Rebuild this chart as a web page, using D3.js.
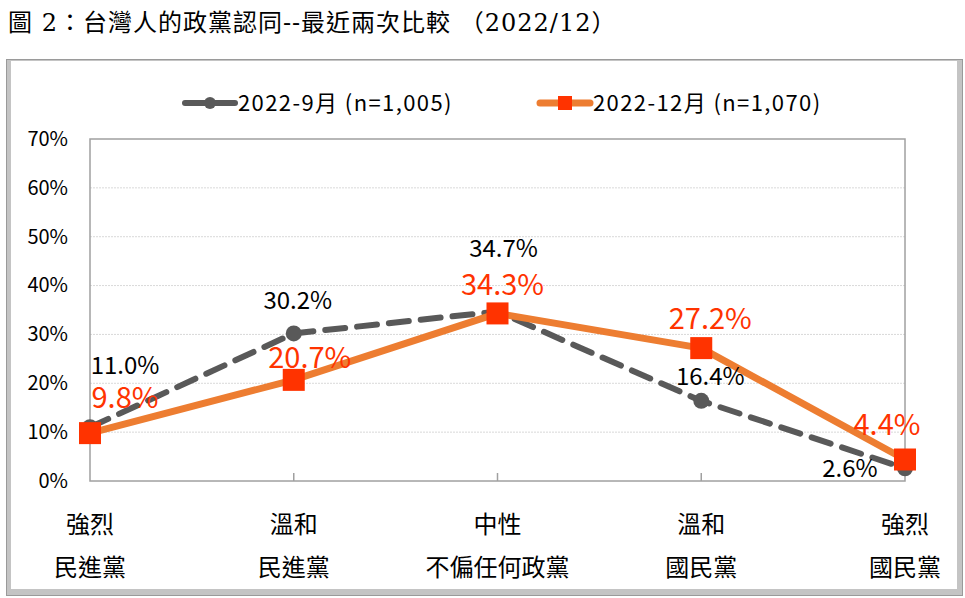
<!DOCTYPE html>
<html>
<head>
<meta charset="utf-8">
<script src="https://cdn.jsdelivr.net/npm/d3@7"></script>
<style>
  body { margin: 0; background: #fff; }
  svg { display: block; }
</style>
</head>
<body>
<script>
// chart data
let categories = [['強烈', '民進黨'], ['溫和', '民進黨'], ['中性', '不偏任何政黨'], ['溫和', '國民黨'], ['強烈', '國民黨']];
let sep = [11.0, 30.2, 34.7, 16.4, 2.6];
let dec = [9.8, 20.7, 34.3, 27.2, 4.4];
let yTicks = [0, 10, 20, 30, 40, 50, 60, 70];
let seriesNames = ['2022-9月 (n=1,005)', '2022-12月 (n=1,070)'];
let title = '圖 2：台灣人的政黨認同--最近兩次比較 （2022/12）';

let width = 965,
    height = 598;

let margin = { top: 139, bottom: 117, left: 90, right: 60 };

let font = '"Noto Sans CJK TC", "Noto Sans", sans-serif';

let svg = d3.select('body')
  .append('svg')
    .attr('width', width)
    .attr('height', height)
    .style('background', '#fff');

// title
svg.append('text')
  .attr('x', 8)
  .attr('y', 31)
  .style('font-family', '"DejaVu Serif", "Noto Sans CJK TC", serif')
  .style('font-size', '24px')
  .style('letter-spacing', '1px')
  .attr('fill', '#000')
  .text(title);

// outer frame with shadow edges
svg.append('rect')
  .attr('x', 6).attr('y', 59)
  .attr('width', 957).attr('height', 537)
  .attr('fill', '#c4c4c4');
svg.append('rect')
  .attr('x', 11).attr('y', 61)
  .attr('width', 946).attr('height', 528)
  .attr('fill', '#fff');
svg.append('rect')
  .attr('x', 6.5).attr('y', 59.5)
  .attr('width', 956).attr('height', 536)
  .attr('fill', 'none')
  .attr('stroke', '#9a9a9a');

let xScale = d3.scalePoint()
  .domain(d3.range(categories.length))
  .range([margin.left, width - margin.right]);

let yScale = d3.scaleLinear()
  .domain([0, 70])
  .range([height - margin.bottom, margin.top]);

let x0 = margin.left, x1 = width - margin.right;
let y0 = yScale(0), y1 = yScale(70);

// gridlines
svg.append('g')
  .selectAll('line')
  .data(yTicks.filter(d => d > 0 && d < 70))
  .enter().append('line')
    .attr('x1', x0).attr('x2', x1)
    .attr('y1', d => yScale(d)).attr('y2', d => yScale(d))
    .attr('stroke', '#d9d9d9')
    .attr('stroke-dasharray', '2,1');

// plot border
svg.append('rect')
  .attr('x', x0).attr('y', y1)
  .attr('width', x1 - x0).attr('height', y0 - y1)
  .attr('fill', 'none')
  .attr('stroke', '#a0a0a0')
  .attr('stroke-width', 1.5);

// y axis labels
let yAxis = svg.append('g')
  .attr('transform', `translate(${x0},0)`)
  .call(d3.axisLeft(yScale).tickValues(yTicks).tickSize(0).tickPadding(22).tickFormat(d => d + '%'));
yAxis.select('.domain').remove();
yAxis.selectAll('text')
  .style('font-family', font)
  .style('font-size', '20px')
  .attr('fill', '#000');

// x axis ticks (inward) and labels
svg.append('g')
  .selectAll('line')
  .data(d3.range(1, categories.length - 1))
  .enter().append('line')
    .attr('x1', d => xScale(d)).attr('x2', d => xScale(d))
    .attr('y1', y0).attr('y2', y0 - 8)
    .attr('stroke', '#a0a0a0')
    .attr('stroke-width', 1.5);

let xLabels = svg.append('g')
  .selectAll('text')
  .data(categories)
  .enter().append('text')
    .attr('x', (d, i) => xScale(i))
    .attr('text-anchor', 'middle')
    .style('font-family', font)
    .style('font-size', '24px')
    .attr('fill', '#000');
xLabels.append('tspan').attr('x', (d, i) => xScale(i)).attr('y', 533).text(d => d[0]);
xLabels.append('tspan').attr('x', (d, i) => xScale(i)).attr('y', 576).text(d => d[1]);

let line = d3.line()
  .x((d, i) => xScale(i))
  .y(d => yScale(d));

// September series: gray dashed with circles
svg.append('path')
  .datum(sep)
  .attr('d', line)
  .attr('fill', 'none')
  .attr('stroke', '#595959')
  .attr('stroke-width', 6)
  .attr('stroke-dasharray', '20,12')
  .attr('stroke-linecap', 'round');

svg.append('g')
  .selectAll('circle')
  .data(sep)
  .enter().append('circle')
    .attr('cx', (d, i) => xScale(i))
    .attr('cy', d => yScale(d))
    .attr('r', 8)
    .attr('fill', '#595959');

// December series: orange solid with red squares
svg.append('path')
  .datum(dec)
  .attr('d', line)
  .attr('fill', 'none')
  .attr('stroke', '#ED7D31')
  .attr('stroke-width', 7)
  .attr('stroke-linejoin', 'round');

svg.append('g')
  .selectAll('rect')
  .data(dec)
  .enter().append('rect')
    .attr('x', (d, i) => xScale(i) - 11)
    .attr('y', d => yScale(d) - 11)
    .attr('width', 22)
    .attr('height', 22)
    .attr('fill', '#FF3300');

// data labels: offset of the label centre from its point
let sepOff = [[35, -62], [4, -33], [6, -63], [9, -25], [-55, 0]];
let decOff = [[35, -36], [16, -22], [5, -29], [9, -30], [-18, -35]];
let sepSize = 24, decSize = 29;

svg.append('g')
  .selectAll('text')
  .data(sep)
  .enter().append('text')
    .attr('x', (d, i) => xScale(i) + sepOff[i][0])
    .attr('y', (d, i) => yScale(d) + sepOff[i][1] + sepSize * 0.36)
    .attr('text-anchor', 'middle')
    .style('font-family', font)
    .style('font-size', sepSize + 'px')
    .attr('fill', '#000')
    .text(d => d.toFixed(1) + '%');

svg.append('g')
  .selectAll('text')
  .data(dec)
  .enter().append('text')
    .attr('x', (d, i) => xScale(i) + decOff[i][0])
    .attr('y', (d, i) => yScale(d) + decOff[i][1] + decSize * 0.36)
    .attr('text-anchor', 'middle')
    .style('font-family', font)
    .style('font-size', decSize + 'px')
    .attr('fill', '#FF3300')
    .text(d => d.toFixed(1) + '%');

// legend
let legend = svg.append('g').attr('transform', 'translate(0,103)');
let legendX = [185, 540];

legend.append('line')
  .attr('x1', legendX[0]).attr('x2', legendX[0] + 50)
  .attr('stroke', '#595959').attr('stroke-width', 6).attr('stroke-linecap', 'round');
legend.append('circle')
  .attr('cx', legendX[0] + 25).attr('r', 6).attr('fill', '#595959');

legend.append('line')
  .attr('x1', legendX[1]).attr('x2', legendX[1] + 50)
  .attr('stroke', '#ED7D31').attr('stroke-width', 7).attr('stroke-linecap', 'round');
legend.append('rect')
  .attr('x', legendX[1] + 18).attr('y', -7).attr('width', 14).attr('height', 14)
  .attr('fill', '#FF3300');

legend.selectAll('.legend-text')
  .data(seriesNames)
  .enter().append('text')
    .attr('class', 'legend-text')
    .attr('x', (d, i) => legendX[i] + 53)
    .attr('y', 8)
    .style('font-family', font)
    .style('font-size', '22px')
    .style('letter-spacing', '1.4px')
    .attr('fill', '#000')
    .text(d => d);
</script>
</body>
</html>
